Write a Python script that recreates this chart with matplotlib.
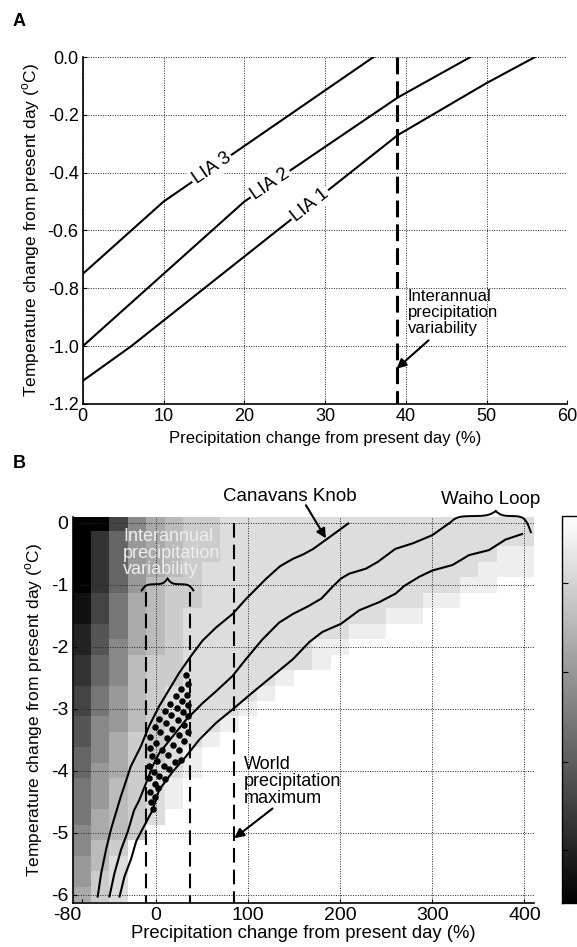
import numpy as np
import matplotlib
matplotlib.use("Agg")
import matplotlib.pyplot as plt

plt.rcParams["font.family"] = ["Liberation Sans", "DejaVu Sans"]
plt.rcParams["mathtext.fontset"] = "custom"
plt.rcParams["mathtext.rm"] = "Liberation Sans"
plt.rcParams["axes.unicode_minus"] = False

# --- panel A: equilibrium lines for the three LIA moraines -------------------
LIA1_P = [0, 6, 20, 39, 50, 56]
LIA1_T = [-1.12, -1.0, -0.69, -0.27, -0.09, 0.0]
LIA2_P = [0, 20, 39, 48]
LIA2_T = [-1.0, -0.5, -0.14, 0.0]
LIA3_P = [0, 10, 36]
LIA3_T = [-0.75, -0.5, 0.0]
LIA_LABEL_P = {"LIA 1": 28.1, "LIA 2": 23.2, "LIA 3": 15.95}
IAV_A = 38.9  # interannual precipitation variability (%)

A_XTICKS = [0, 10, 20, 30, 40, 50, 60]
A_YTICKS = [-1.2, -1.0, -0.8, -0.6, -0.4, -0.2, 0.0]
A_YTICK_LABELS = ["-1.2", "-1.0", "-0.8", "-0.6", "-0.4", "-0.2", "0.0"]

# --- panel B: grey field + three moraine curves -------------------------------
P_CENTRES = [-80, -60, -40, -20, 0, 20, 40, 60, 80, 100, 120, 140, 160,
             180, 200, 220, 240, 260, 280, 300, 320, 340, 360, 380, 400]
T_CENTRES = [0, -0.25, -0.5, -0.75, -1, -1.25, -1.5, -1.75, -2, -2.25, -2.5,
             -2.75, -3, -3.25, -3.5, -3.75, -4, -4.25, -4.5, -4.75, -5, -5.25,
             -5.5, -5.75, -6]
# grey level per cell, hex digit 0 (black) .. F (white); "." = no value
HEAT_ROWS = [
    "0048ABCCDDDDDDDDDDDDDDDDD",
    "0369ABCCDDDDDDDDDDDDDDDDD",
    "0369ABCCDDDDDDDDDDDDDDDEE",
    "0369ABCDDDDDDDDDDDDDDDEEE",
    "0369BCCDDDDDDDDDDDDDDEE..",
    "147ABCCDDDDDDDDDDDDEE....",
    "147ABCDDDDDDDDDDDEE......",
    "257ABCDDDDDDDDDEE........",
    "258ABCDDDDDDDEE..........",
    "368BCCDDDDDDDE...........",
    "368BCCDDDDDE.............",
    "479BCDDDDDE..............",
    "479BCDDDDE...............",
    "589BCDDDE................",
    "58ACCDDE.................",
    "68ACCDE..................",
    "69ACDDE..................",
    "79BCDE...................",
    "79BCDE...................",
    "7ABCD....................",
    "8ABC.....................",
    "8BC......................",
    "9BD......................",
    "9CD......................",
    "ACD......................",
]

CURVE1_P = [-62.7, -59, -53.6, -48, -37.7, -32.3, -26.8, -16, -7, 3.9, 14.8,
            25.7, 38.4, 51, 65.5, 83.6, 98, 120, 135, 149, 160, 171, 185, 209]
CURVE1_T = [-6.03, -5.66, -5.27, -4.93, -4.42, -4.18, -3.93, -3.61, -3.28,
            -2.96, -2.69, -2.42, -2.15, -1.90, -1.69, -1.47, -1.23, -0.90,
            -0.70, -0.58, -0.51, -0.42, -0.27, -0.01]
CURVE2_P = [-50, -44.6, -37.3, -30, -23.3, -17.8, -10.5, -3.3, 3.9, 18.4, 33,
            51, 65.5, 83.6, 98, 116, 134, 149, 165, 180, 192, 201, 210, 228,
            241, 260, 279, 300, 318]
CURVE2_T = [-6.03, -5.66, -5.27, -4.98, -4.64, -4.48, -4.21, -3.93, -3.72,
            -3.45, -3.18, -2.91, -2.72, -2.47, -2.20, -1.88, -1.61, -1.47,
            -1.35, -1.22, -1.03, -0.90, -0.82, -0.74, -0.63, -0.42, -0.33,
            -0.20, -0.01]
CURVE3_P = [-39, -33.7, -26.4, -21, -15.5, -3.3, 3.9, 18.4, 33, 47.4, 65.5,
            83.6, 105, 127, 149, 167, 181, 201, 221, 242.5, 260.5, 269.5, 286,
            300, 322, 340, 361.5, 379.5, 397.5]
CURVE3_T = [-6.03, -5.71, -5.42, -5.14, -4.98, -4.64, -4.31, -4.02, -3.77,
            -3.50, -3.23, -3.01, -2.74, -2.47, -2.20, -1.92, -1.76, -1.63,
            -1.41, -1.28, -1.14, -1.02, -0.87, -0.77, -0.68, -0.52, -0.44,
            -0.27, -0.18]

# stippled overlap of the moraine band with interannual variability
DOT_P = [33, 35, 28, 34, 22, 29, 16, 35, 23, 10, 30, 17, 35, 4, 24, 11, 31,
         -1, 18, 5, 35, 25, -6, 12, 31, 0, 19, -6, 7, 26, 14, 28, -4, 2, 21,
         -7, 9, 15, -2, 4, -7, 10, -1, 3, -6, -1, -5, -3]
DOT_T = [-2.46, -2.60, -2.68, -2.78, -2.80, -2.88, -2.92, -2.94, -2.98,
         -3.03, -3.05, -3.10, -3.12, -3.16, -3.18, -3.23, -3.26, -3.30,
         -3.32, -3.38, -3.38, -3.42, -3.46, -3.48, -3.52, -3.56, -3.58,
         -3.64, -3.66, -3.66, -3.74, -3.82, -3.76, -3.84, -3.86, -3.92,
         -3.92, -3.98, -4.02, -4.08, -4.12, -4.14, -4.22, -4.28, -4.34,
         -4.42, -4.50, -4.61]

IAV_B = [-10, 37]   # interannual variability range (%)
WORLD_MAX_B = 85    # world precipitation maximum (%)

B_XTICKS = [-80, 0, 100, 200, 300, 400]
B_XTICK_LABELS = ["-80", "0", "100", "200", "300", "400"]
B_YTICKS = [-6, -5, -4, -3, -2, -1, 0]
B_YTICK_LABELS = ["-6", "-5", "-4", "-3", "-2", "-1", "0"]
CBAR_TICKS = [0.137, 0.364, 0.597, 0.827]

YLABEL = r"Temperature change from present day ($^{\mathrm{o}}$C)"
XLABEL = "Precipitation change from present day (%)"


def style_axes(ax, tick_size):
    for side in ("top", "right"):
        ax.spines[side].set_visible(False)
    for side in ("left", "bottom"):
        ax.spines[side].set_linewidth(1.2)
    ax.grid(True, color="0.15", linestyle=(0, (1, 1.5)), linewidth=0.7)
    ax.tick_params(direction="in", length=3, labelsize=tick_size, pad=3)


def half_brace(x_end, y_end, x_cusp, y_cusp, y_arm, k=12):
    t = np.linspace(0, 1, 120)
    f = 1 / (1 + np.exp(-k * t)) + 1 / (1 + np.exp(-k * (t - 1)))
    f = (f - f[0]) / (f[-1] - f[0])
    y = np.where(f < 0.5, y_end + (y_arm - y_end) * 2 * f,
                 y_arm + (y_cusp - y_arm) * (2 * f - 1))
    return x_end + (x_cusp - x_end) * t, y


def draw_brace(ax, left, right, cusp_x, cusp_y, arm_y):
    for x_end, y_end in (left, right):
        bx, by = half_brace(x_end, y_end, cusp_x, cusp_y, arm_y)
        ax.plot(bx, by, color="k", lw=1.4, clip_on=False)


def arrow(ax, head, tail):
    ax.annotate("", xy=head, xytext=tail,
                arrowprops=dict(arrowstyle="-|>", color="k", lw=1.5,
                                mutation_scale=14, shrinkA=0, shrinkB=0),
                annotation_clip=False)


fig = plt.figure(figsize=(5.77, 9.47), dpi=100)

# ---------------------------------------------------------------- panel A
axA = fig.add_axes([0.1435, 0.5734, 0.8399, 0.3664])
style_axes(axA, 13)
for p, t in ((LIA1_P, LIA1_T), (LIA2_P, LIA2_T), (LIA3_P, LIA3_T)):
    axA.plot(p, t, color="k", lw=1.5)
lines = {"LIA 1": (LIA1_P, LIA1_T), "LIA 2": (LIA2_P, LIA2_T),
         "LIA 3": (LIA3_P, LIA3_T)}
for name, xp in LIA_LABEL_P.items():
    p, t = lines[name]
    yp = np.interp(xp, p, t)
    slope = (np.interp(xp + 1, p, t) - np.interp(xp - 1, p, t)) / 2
    axA.text(xp, yp, name, fontsize=13.5, ha="center", va="center",
             rotation=np.degrees(np.arctan(slope)), rotation_mode="anchor",
             transform_rotates_text=True, zorder=5,
             bbox=dict(fc="white", ec="none", pad=1.5))
axA.plot([IAV_A, IAV_A], [0, -1.2], color="k", lw=2.2, dashes=(5.5, 2.3))
axA.text(40.2, -0.883, "Interannual\nprecipitation\nvariability", fontsize=12,
         ha="left", va="center", linespacing=1.1)
arrow(axA, (38.85, -1.078), (42.8, -0.98))
axA.set_xlim(0, 60)
axA.set_ylim(-1.2, 0)
axA.set_xticks(A_XTICKS)
axA.set_yticks(A_YTICKS)
axA.set_yticklabels(A_YTICK_LABELS)
axA.set_xlabel(XLABEL, fontsize=12, labelpad=4)
axA.set_ylabel(YLABEL, fontsize=12.5, labelpad=4)

# ---------------------------------------------------------------- panel B
axB = fig.add_axes([0.1257, 0.0468, 0.7991, 0.4076])
style_axes(axB, 14)
Z = np.array([[np.nan if c == "." else int(c, 16) / 15 for c in row]
              for row in HEAT_ROWS])
cmap = plt.get_cmap("gray").copy()
cmap.set_bad("white")
mesh = axB.pcolormesh(P_CENTRES, T_CENTRES, np.ma.masked_invalid(Z),
                      shading="nearest", cmap=cmap, vmin=0, vmax=1, zorder=0)
for p, t in ((CURVE1_P, CURVE1_T), (CURVE2_P, CURVE2_T), (CURVE3_P, CURVE3_T)):
    axB.plot(p, t, color="k", lw=1.5)
axB.scatter(DOT_P, DOT_T, s=22, color="k", zorder=4, linewidths=0)

axB.set_xlim(-90, 410)
axB.set_ylim(-6.13, 0.1)
axB.vlines(IAV_B, -1.11, -6.13, color="k", lw=1.5, linestyles=[(0, (7, 3.4))])
axB.vlines(WORLD_MAX_B, 0.0, -6.13, color="k", lw=1.5,
           linestyles=[(0, (7, 3.4))])

axB.text(-35, -0.49, "Interannual\nprecipitation\nvariability", fontsize=13,
         color="#eeeeee", ha="left", va="center", linespacing=0.98)
draw_brace(axB, (-15, -1.09), (41, -1.09), 13, -0.90, -0.99)

axB.text(96.2, -4.18, "World\nprecipitation\nmaximum", fontsize=13,
         ha="left", va="center", linespacing=1.0)
arrow(axB, (85.4, -5.09), (126.9, -4.61))

axB.text(145.7, 0.42, "Canavans Knob", fontsize=13.5, ha="center",
         va="center", clip_on=False)
arrow(axB, (184.8, -0.25), (163.1, 0.285))

axB.text(363.8, 0.37, "Waiho Loop", fontsize=13.5, ha="center", va="center",
         clip_on=False)
draw_brace(axB, (318.5, -0.01), (407, -0.15), 369, 0.19, 0.11)

axB.set_xticks(B_XTICKS)
axB.set_xticklabels(B_XTICK_LABELS)
axB.get_xticklabels()[0].set_horizontalalignment("right")
axB.get_xgridlines()[0].set_visible(False)
axB.set_yticks(B_YTICKS)
axB.set_yticklabels(B_YTICK_LABELS)
axB.set_xlabel(XLABEL, fontsize=13.3, labelpad=1)
axB.set_ylabel(YLABEL, fontsize=12.5, labelpad=4)

# colour bar, mostly cut off by the right edge
cax = fig.add_axes([0.974, 0.0468, 0.12, 0.4086])
cb = fig.colorbar(mesh, cax=cax)
cb.outline.set_linewidth(1.0)
cb.set_ticks(CBAR_TICKS)
cax.yaxis.set_ticks_position("left")
cax.tick_params(direction="in", length=4, labelleft=False, labelright=False)

fig.text(0.022, 1 - 21 / 947, "A", fontsize=13, fontweight="bold",
         va="center", ha="left")
fig.text(0.022, 1 - 463 / 947, "B", fontsize=13, fontweight="bold",
         va="center", ha="left")

fig.savefig("out.png", dpi=100)
